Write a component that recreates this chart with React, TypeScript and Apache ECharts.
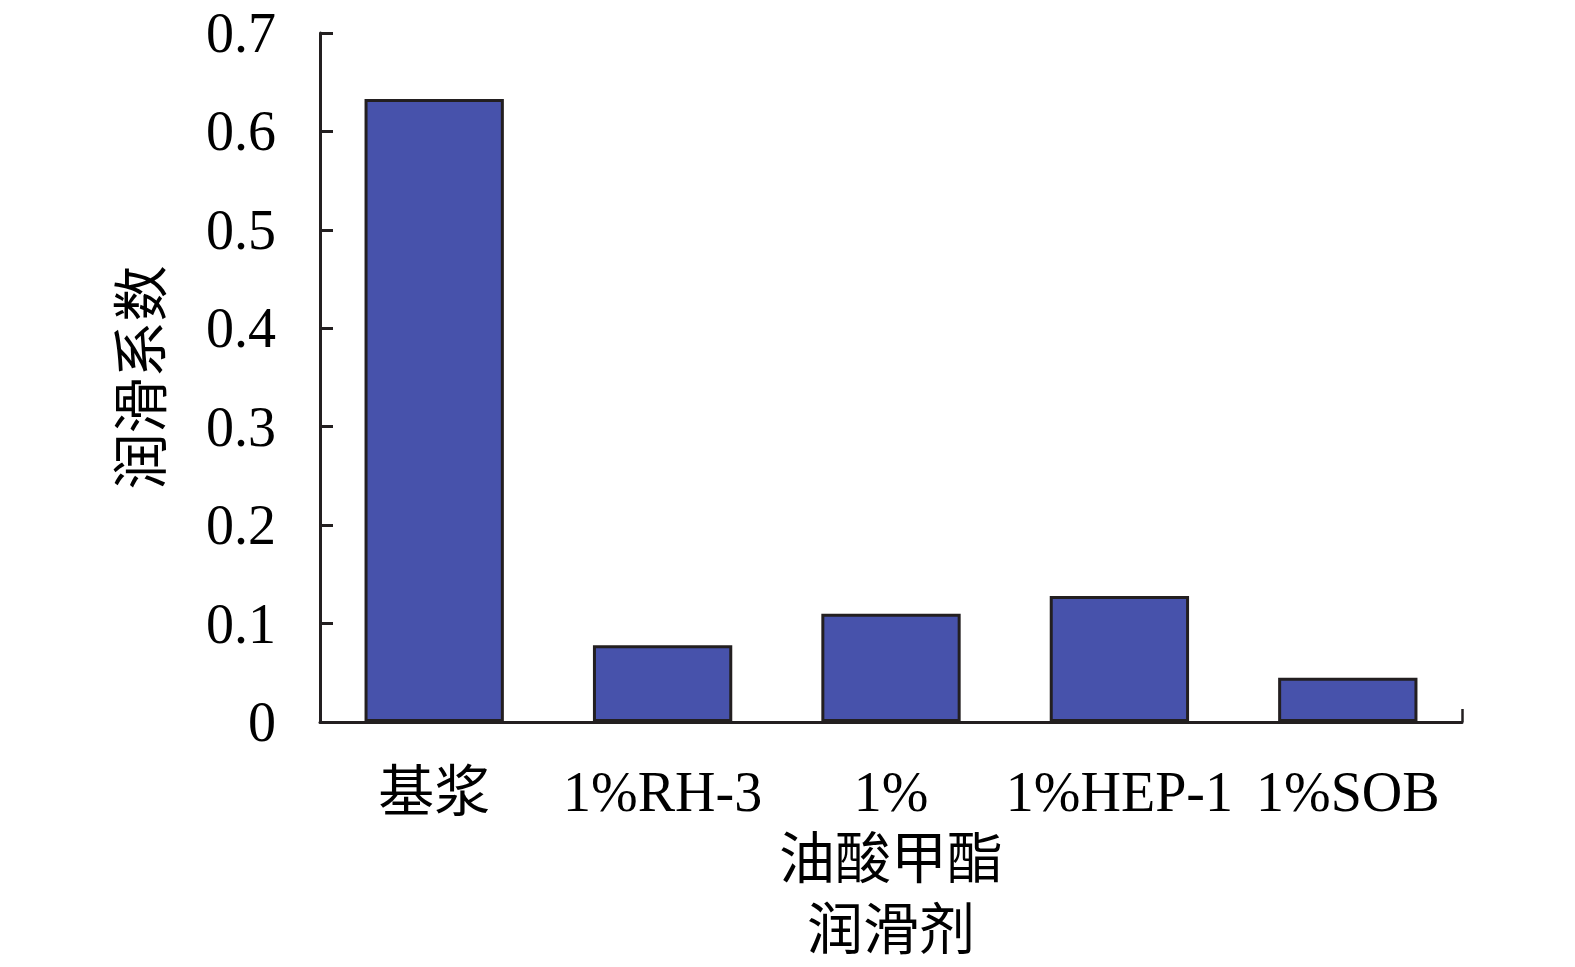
import React, { useEffect, useRef } from "react";
import * as echarts from "echarts";

const categories = ["基浆", "1%RH-3", "1%\n油酸甲酯", "1%HEP-1", "1%SOB"];
const values = [0.633, 0.078, 0.11, 0.128, 0.045];
const yName = "润滑系数";
const xName = "润滑剂";

const FONT = "'Liberation Serif', 'Times New Roman', 'Noto Sans CJK SC', serif";
const INK = "#231f20";

export default function App() {
  const ref = useRef<HTMLDivElement>(null);
  useEffect(() => {
    if (!ref.current) return;
    const chart = echarts.init(ref.current, undefined, { renderer: "svg" });
    chart.setOption({
      animation: false,
      backgroundColor: "#ffffff",
      grid: { left: 320, right: 113, top: 33, bottom: 245, containLabel: false },
      xAxis: [
        {
          type: "category",
          data: categories,
          name: xName,
          nameLocation: "middle",
          nameGap: 180,
          nameTextStyle: { fontFamily: FONT, fontSize: 56, color: "#000" },
          axisLine: { lineStyle: { color: INK, width: 3 } },
          axisTick: { show: true, inside: true, alignWithLabel: true, length: 13, lineStyle: { color: INK, width: 2.5 } },
          axisLabel: { fontFamily: FONT, fontSize: 56, color: "#000", margin: 36, lineHeight: 67, interval: 0 },
        },
        {
          type: "value",
          position: "bottom",
          min: 0,
          max: 5,
          interval: 5,
          axisLine: { show: false },
          axisTick: { show: true, inside: true, length: 13, lineStyle: { color: INK, width: 2.5 } },
          axisLabel: { show: false },
          splitLine: { show: false },
        },
      ],
      yAxis: {
        type: "value",
        min: 0,
        max: 0.7,
        interval: 0.1,
        name: yName,
        nameLocation: "middle",
        nameGap: 150,
        nameRotate: 90,
        nameTextStyle: { fontFamily: FONT, fontSize: 56, color: "#000" },
        axisLine: { show: true, lineStyle: { color: INK, width: 3 } },
        axisTick: { show: true, inside: true, length: 13, lineStyle: { color: INK, width: 3 } },
        splitLine: { show: false },
        axisLabel: {
          fontFamily: FONT,
          fontSize: 56,
          color: "#000",
          margin: 44,
          formatter: (v: number) => (v === 0 ? "0" : String(Math.round(v * 10) / 10)),
        },
      },
      series: [
        {
          type: "bar",
          data: values,
          xAxisIndex: 0,
          barCategoryGap: "39%",
          itemStyle: { color: "#4752AB", borderColor: INK, borderWidth: 3 },
        },
      ],
    });
    return () => chart.dispose();
  }, []);
  return (
    <div
      ref={ref}
      style={{ position: "absolute", left: 0, top: 0, width: 1575, height: 967 }}
    />
  );
}
